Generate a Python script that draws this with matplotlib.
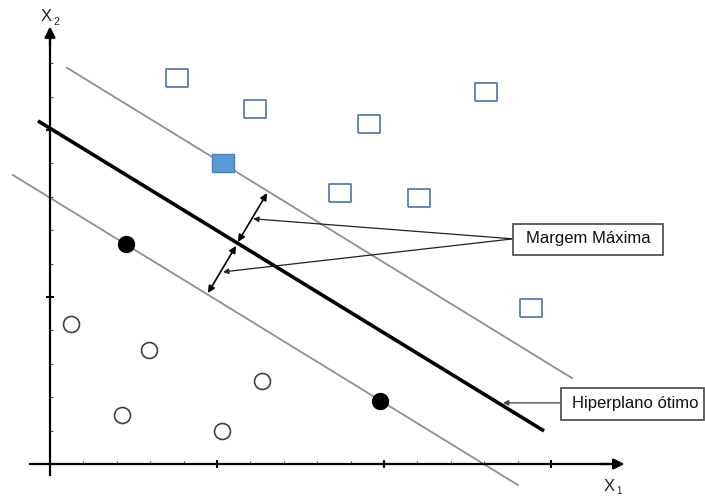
import matplotlib.pyplot as plt
from matplotlib.patches import Rectangle

plt.rcParams["font.family"] = ["Liberation Sans", "DejaVu Sans"]

# data in axis units (one unit = one tick step)
open_sq_x = [3.80, 6.14, 9.55, 13.05, 8.68, 11.05, 14.40]
open_sq_y = [11.56, 10.63, 10.18, 11.14, 8.11, 7.96, 4.67]
sv_sq_x = [5.18]
sv_sq_y = [9.01]

open_c_x = [0.63, 2.96, 6.35, 2.16, 5.15]
open_c_y = [4.19, 3.41, 2.49, 1.47, 0.99]
sv_c_x = [2.28, 9.88]
sv_c_y = [6.59, 1.89]

hyper_x = [-0.36, 14.79]
hyper_y = [10.27, 0.99]
upper_x = [0.51, 15.63]
upper_y = [11.86, 2.57]
lower_x = [-1.11, 14.01]
lower_y = [8.65, -0.63]

# margin double arrows (start, end)
margin_arrows = [((6.50, 8.11), (5.63, 6.65)), ((5.57, 6.53), (4.73, 5.12))]
margem_from = (13.86, 6.74)
margem_to = [(6.08, 7.34), (5.18, 5.75)]
hiper_from = (15.30, 1.83)
hiper_to = (13.56, 1.83)

xticks = list(range(1, 16))
yticks = list(range(1, 13))

fig = plt.figure(figsize=(7.05, 4.96), dpi=100)
ax = fig.add_axes([0, 0, 1, 1])
ax.set_xlim(-1.497, 19.61)
ax.set_ylim(-0.958, 13.89)

# axes through the origin
for s in ["top", "right"]:
    ax.spines[s].set_visible(False)
ax.spines["left"].set_position(("data", 0))
ax.spines["bottom"].set_position(("data", 0))
ax.spines["left"].set_bounds(-0.33, 12.9)
ax.spines["bottom"].set_bounds(-0.6, 17.0)
for s in ["left", "bottom"]:
    ax.spines[s].set_linewidth(1.6)
    ax.spines[s].set_color("black")
ax.set_xticks([t for t in xticks if t % 5])
ax.set_yticks([t for t in yticks if t % 5])
ax.set_xticks([t for t in xticks if t % 5 == 0], minor=True)
ax.set_yticks([t for t in yticks if t % 5 == 0], minor=True)
ax.tick_params(which="major", direction="in", length=2.5, width=0.8,
               color="#444444", labelbottom=False, labelleft=False)
ax.tick_params(which="minor", direction="inout", length=6, width=1.5,
               color="black", labelbottom=False, labelleft=False)
ax.annotate("", xy=(17.2, 0), xytext=(16.5, 0),
            arrowprops=dict(arrowstyle="-|>", color="black", lw=1.6,
                            mutation_scale=16, shrinkA=0, shrinkB=0))
ax.annotate("", xy=(0, 13.1), xytext=(0, 12.5),
            arrowprops=dict(arrowstyle="-|>", color="black", lw=1.6,
                            mutation_scale=16, shrinkA=0, shrinkB=0))

# axis labels
ax.text(-0.11, 13.4, "X", fontsize=12, color="#222222", ha="center", va="center")
ax.text(0.2, 13.24, "2", fontsize=7.5, color="#222222", ha="center", va="center")
ax.text(16.74, -0.68, "X", fontsize=12, color="#222222", ha="center", va="center")
ax.text(17.03, -0.8, "1", fontsize=7, color="#222222", ha="center", va="center")

# hyperplane and margins
ax.plot(upper_x, upper_y, color="#909090", lw=1.3)
ax.plot(lower_x, lower_y, color="#909090", lw=1.3)
ax.plot(hyper_x, hyper_y, color="black", lw=2.6, solid_capstyle="butt")

# points
rect = [(-11, -9.5), (11, -9.5), (11, 9.5), (-11, 9.5), (-11, -9.5)]
ax.plot(open_sq_x, open_sq_y, linestyle="none", marker=rect, markersize=15.5,
        markerfacecolor="white", markeredgecolor="#4a74a8", markeredgewidth=1.2)
ax.plot(sv_sq_x, sv_sq_y, linestyle="none", marker=rect, markersize=15.5,
        markerfacecolor="#5b9bd5", markeredgecolor="#4a7ebb", markeredgewidth=1.0)
ax.plot(open_c_x, open_c_y, linestyle="none", marker="o", markersize=11.5,
        markerfacecolor="white", markeredgecolor="#404040", markeredgewidth=1.2)
ax.plot(sv_c_x, sv_c_y, linestyle="none", marker="o", markersize=11.5,
        markerfacecolor="black", markeredgecolor="black")

# margin arrows
for a, b in margin_arrows:
    ax.annotate("", xy=b, xytext=a,
                arrowprops=dict(arrowstyle="<|-|>", color="black", lw=1.2,
                                mutation_scale=10, shrinkA=0, shrinkB=0))

# callouts
for t in margem_to:
    ax.annotate("", xy=t, xytext=margem_from,
                arrowprops=dict(arrowstyle="-|>", color="#222222", lw=0.9,
                                mutation_scale=8, shrinkA=0, shrinkB=0))
ax.annotate("", xy=hiper_to, xytext=hiper_from,
            arrowprops=dict(arrowstyle="-|>", color="#444444", lw=0.9,
                            mutation_scale=8, shrinkA=0, shrinkB=0))

ax.add_patch(Rectangle((13.86, 6.26), 4.49, 0.93, facecolor="white",
                       edgecolor="#555555", lw=1.3, zorder=3))
ax.text(16.105, 6.74, "Margem Máxima", fontsize=12, ha="center", va="center",
        color="#111111", zorder=4)
ax.add_patch(Rectangle((15.30, 1.32), 4.28, 0.96, facecolor="white",
                       edgecolor="#555555", lw=1.3, zorder=3))
ax.text(15.63, 1.81, "Hiperplano ótimo", fontsize=12, ha="left", va="center",
        color="#111111", zorder=4)

plt.savefig("out.png", dpi=100)
